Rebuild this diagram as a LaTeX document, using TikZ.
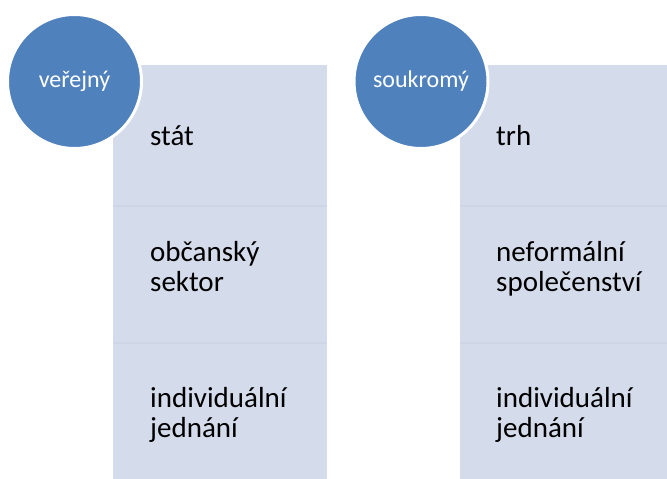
\documentclass[tikz,border=0pt]{standalone}
\usepackage{fontspec}
\setmainfont{Carlito}
\definecolor{panelfill}{HTML}{D4DBEA}
\definecolor{panelline}{HTML}{CED5E6}
\definecolor{circfill}{HTML}{4F81BD}
\begin{document}
\begin{tikzpicture}[x=1pt,y=-1pt,
  seg/.style={fill=panelfill, draw=none, inner sep=0pt, anchor=north west, minimum width=214pt},
  sepline/.style={draw=panelline, line width=2pt},
  itemtext/.style={anchor=base west, align=left, inner sep=0pt, font=\fontsize{29}{29.5}\selectfont, text=black},
  headcircle/.style={circle, fill=circfill, draw=white, line width=3pt, minimum size=134pt, inner sep=0pt,
    text=white, font=\fontsize{24}{26}\selectfont}
]
\useasboundingbox (0,0) rectangle (667,479);

% left column: three stacked segments
\node[seg, minimum height=141pt] (L1) at (113,65) {};
\node[seg, minimum height=137pt] (L2) at (113,206) {};
\node[seg, minimum height=136pt] (L3) at (113,343) {};
\draw[sepline] (L2.north west) -- (L2.north east);
\draw[sepline] (L3.north west) -- (L3.north east);

% right column: three stacked segments
\node[seg, minimum height=141pt, minimum width=207pt] (R1) at (460,65) {};
\node[seg, minimum height=137pt, minimum width=207pt] (R2) at (460,206) {};
\node[seg, minimum height=136pt, minimum width=207pt] (R3) at (460,343) {};
\draw[sepline] (R2.north west) -- (R2.north east);
\draw[sepline] (R3.north west) -- (R3.north east);

% item labels (base anchor sits on the last line)
\node[itemtext] (t1) at (150,145) {stát};
\node[itemtext] (t2) at (150,291) {občanský\\sektor};
\node[itemtext] (t3) at (150,437) {individuální\\jednání};
\node[itemtext] (u1) at (496,145) {trh};
\node[itemtext] (u2) at (496,291) {neformální\\společenství};
\node[itemtext] (u3) at (496,437) {individuální\\jednání};

% heading circles
\node[headcircle] (ver) at (74.5,81.5) {veřejný};
\node[headcircle] (sou) at (421,81.5) {soukromý};
\end{tikzpicture}
\end{document}
